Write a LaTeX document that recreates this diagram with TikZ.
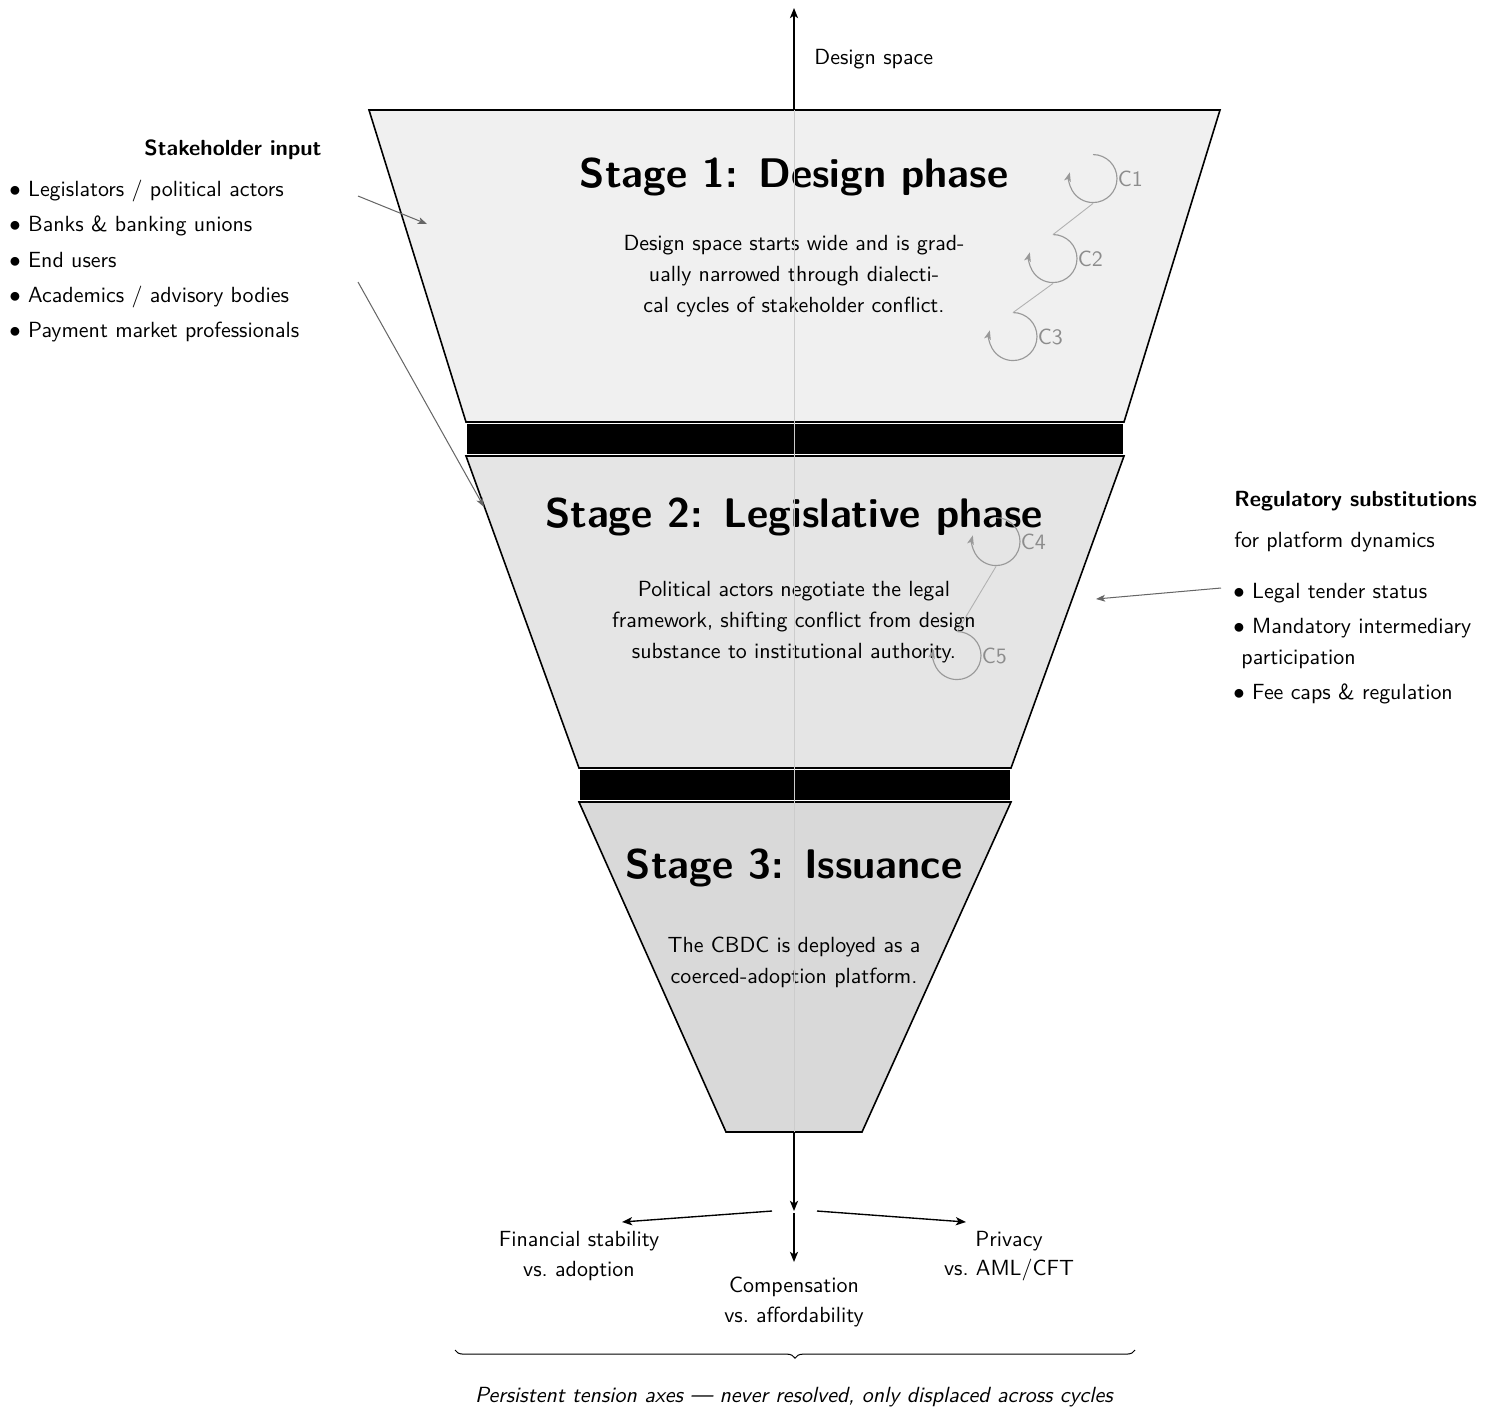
\documentclass[tikz,border=0pt]{standalone}
\usetikzlibrary{arrows.meta,decorations.pathreplacing,calc}
\begin{document}
\begin{tikzpicture}[x=0.44pt,y=-0.44pt,
  every node/.style={font=\sffamily\fontsize{9.65}{12}\selectfont, inner sep=0pt, text height=6.2pt, text depth=2pt},
  stagebox/.style={draw=black, line width=0.7pt, line join=miter},
  sepbar/.style={fill=black, draw=white, line width=0.8pt},
  stitle/.style={font=\sffamily\bfseries\fontsize{18.2}{22}\selectfont, text height=12pt, text depth=4pt},
  body/.style={align=center, font=\sffamily\fontsize{9.65}{13.7}\selectfont, text height=, text depth=},
  axislbl/.style={align=center, font=\sffamily\fontsize{9.65}{12.8}\selectfont, text height=, text depth=},
  listitem/.style={anchor=west},
  axisarrow/.style={draw=black, line width=0.6pt, -{Stealth[length=4.5pt,width=3.6pt,inset=1.2pt]}},
  feed/.style={draw=black!60, line width=0.45pt, -{Stealth[length=4pt,width=3pt,inset=1pt]}},
  cycnode/.style={circle, minimum size=21.12pt, inner sep=0pt, text height=, text depth=},
  cyc/.style={draw=black!40, line width=0.5pt, -{Stealth[length=4pt,width=3pt,inset=1pt]}},
  cyclink/.style={draw=black!30, line width=0.4pt},
  cyclabel/.style={anchor=west, text=black!45},
  midline/.style={draw=black!20, line width=0.4pt}
]
\useasboundingbox (0,0) rectangle (1493,1410);

% funnel stages and separators
\path[stagebox, fill=black!6]  (369,110) -- (1220,110) -- (1124,422) -- (466,422) -- cycle;
\path[sepbar] (466,423.5) rectangle (1124,455);
\path[stagebox, fill=black!10] (466,456) -- (1124,456) -- (1011,768) -- (579,768) -- cycle;
\path[sepbar] (579,769.5) rectangle (1011,801);
\path[stagebox, fill=black!15] (579,802) -- (1011,802) -- (862,1132) -- (726,1132) -- cycle;

% stage titles and descriptions
\node[stitle] (t1) at (794,178) {Stage 1: Design phase};
\node[body] (d1) at (794,276) {Design space starts wide and is grad-\\ually narrowed through dialecti-\\cal cycles of stakeholder conflict.};
\node[stitle] (t2) at (794,518) {Stage 2: Legislative phase};
\node[body] (d2) at (794,622) {Political actors negotiate the legal\\framework, shifting conflict from design\\substance to institutional authority.};
\node[stitle] (t3) at (794,869) {Stage 3: Issuance};
\node[body] (d3) at (794,962) {The CBDC is deployed as a\\coerced-adoption platform.};

% dialectical cycles
\node[cycnode] (c1) at (1093,179) {};
\node[cycnode] (c2) at (1053,259) {};
\node[cycnode] (c3) at (1013,337) {};
\node[cycnode] (c4) at (996,542) {};
\node[cycnode] (c5) at (957,656) {};
\foreach \c in {c1,c2,c3,c4,c5}{
  \draw[cyc] (\c.north) arc[start angle=-90, end angle=195, radius=24];
}
\draw[cyclink] (c1.south) -- (c2.north);
\draw[cyclink] (c2.south) -- (c3.north);
\draw[cyclink] (c4.south) -- (c5.north);
\node[cyclabel] (l1) at ([yshift=-1pt]c1.east) {C1};
\node[cyclabel] (l2) at ([yshift=-1pt]c2.east) {C2};
\node[cyclabel] (l3) at ([yshift=-1pt]c3.east) {C3};
\node[cyclabel] (l4) at ([yshift=-1pt]c4.east) {C4};
\node[cyclabel] (l5) at ([yshift=-1pt]c5.east) {C5};

% central axis
\coordinate (ftop) at (794,110);
\coordinate (fbot) at (794,1132);
\coordinate (dstip) at (794,8);
\coordinate (split) at (794,1211);
\draw[midline] (ftop) -- (fbot);
\draw[axisarrow] (ftop) -- (dstip);
\node[anchor=west] (ds) at (814,60) {Design space};
\draw[axisarrow] (fbot) -- (split);

% tension axes
\node[axislbl] (fin) at (579,1256) {Financial stability\\vs.\ adoption};
\node[axislbl] (comp) at (794,1302) {Compensation\\vs.\ affordability};
\node[axislbl] (priv) at (1009,1256) {Privacy\\vs.\ AML/CFT};
\coordinate (splitL) at (772,1211);
\coordinate (splitR) at (817,1211);
\coordinate (splitC) at (794,1213);
\coordinate (finTip) at (622,1222);
\coordinate (privTip) at (966,1222);
\coordinate (compTip) at (794,1262);
\draw[axisarrow] (splitL) -- (finTip);
\draw[axisarrow] (splitR) -- (privTip);
\draw[axisarrow] (splitC) -- (compTip);

\coordinate (brR) at (1135,1350);
\coordinate (brL) at (455,1350);
\draw[decorate, decoration={brace, amplitude=3.6pt}, line width=0.45pt] (brR) -- (brL);
\node[font=\sffamily\itshape\fontsize{9.65}{12}\selectfont] (persist) at (794,1398) {Persistent tension axes --- never resolved, only displaced across cycles};

% stakeholder input
\node[font=\sffamily\bfseries\fontsize{9.65}{12}\selectfont] (stk) at (233,151) {Stakeholder input};
\node[listitem] (s1) at (9,192) {$\bullet$ Legislators / political actors};
\node[listitem] (s2) at (9,227) {$\bullet$ Banks \& banking unions};
\node[listitem] (s3) at (9,263) {$\bullet$ End users};
\node[listitem] (s4) at (9,298) {$\bullet$ Academics / advisory bodies};
\node[listitem] (s5) at (9,333) {$\bullet$ Payment market professionals};
\coordinate (inA) at (358,196);
\coordinate (inAtip) at (427,224);
\coordinate (inB) at (358,282);
\coordinate (inBtip) at (484,507);
\draw[feed] (inA) -- (inAtip);
\draw[feed] (inB) -- (inBtip);

% regulatory substitutions
\node[listitem, font=\sffamily\bfseries\fontsize{9.65}{12}\selectfont] (reg) at (1234,502) {Regulatory substitutions};
\node[listitem] (reg2) at (1234,543) {for platform dynamics};
\node[listitem] (r1) at (1233,594) {$\bullet$ Legal tender status};
\node[listitem] (r2) at (1233,629) {$\bullet$ Mandatory intermediary};
\node[listitem] (r2b) at (1241,660) {participation};
\node[listitem] (r3) at (1233,695) {$\bullet$ Fee caps \& regulation};
\coordinate (regA) at (1221,588);
\coordinate (regAtip) at (1096,599);
\draw[feed] (regA) -- (regAtip);
\end{tikzpicture}
\end{document}
